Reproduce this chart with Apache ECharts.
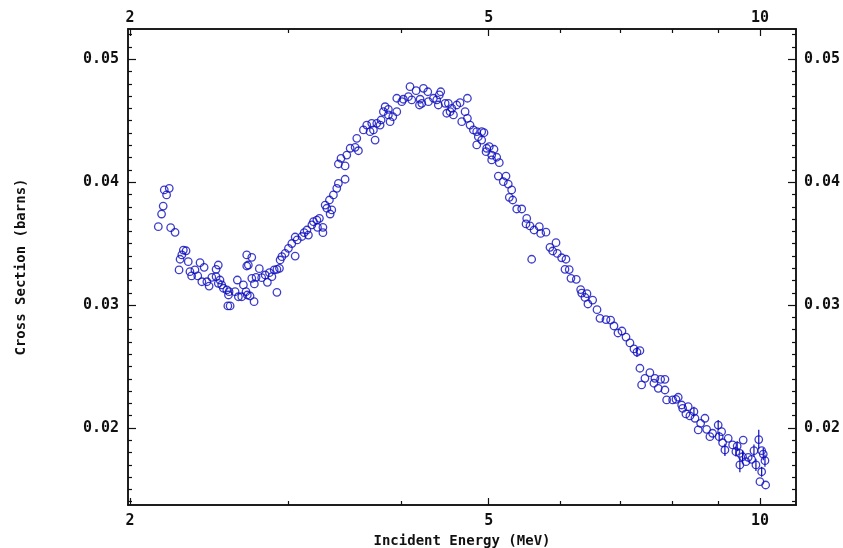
<!DOCTYPE html>
<html>
<head>
<meta charset="utf-8">
<script src="https://cdn.jsdelivr.net/npm/echarts@6/dist/echarts.min.js"></script>
<style>
  html, body { margin: 0; padding: 0; background: #fff; }
  #chart { width: 843px; height: 548px; }
</style>
</head>
<body>
<div id="chart"></div>
<script>
// Incident neutron energy (MeV) of each measured point
const energy = [
  2.150, 2.168, 2.177, 2.183, 2.196, 2.211, 2.219, 2.244, 2.267, 2.273,
  2.283, 2.292, 2.308, 2.321, 2.331, 2.341, 2.361, 2.378, 2.392, 2.403,
  2.417, 2.434, 2.448, 2.465, 2.492, 2.506, 2.492, 2.517, 2.506, 2.528,
  2.539, 2.561, 2.576, 2.572, 2.568, 2.583, 2.616, 2.631, 2.638, 2.661,
  2.672, 2.690, 2.699, 2.718, 2.746, 2.695, 2.730, 2.695, 2.706, 2.730,
  2.760, 2.748, 2.783, 2.800, 2.825, 2.841, 2.856, 2.874, 2.891, 2.911,
  2.930, 2.911, 2.935, 2.948, 2.973, 2.998, 3.024, 3.050, 3.050, 3.066,
  3.103, 3.121, 3.143, 3.155, 3.183, 3.196, 3.224, 3.245, 3.229, 3.274,
  3.274, 3.293, 3.307, 3.335, 3.349, 3.329, 3.363, 3.392, 3.406, 3.465,
  3.406, 3.429, 3.465, 3.480, 3.510, 3.555, 3.585, 3.570, 3.631, 3.662,
  3.709, 3.693, 3.725, 3.741, 3.757, 3.789, 3.799, 3.821, 3.838, 3.870,
  3.870, 3.887, 3.914, 3.954, 3.954, 4.005, 4.021, 4.073, 4.090, 4.108,
  4.154, 4.197, 4.215, 4.190, 4.233, 4.280, 4.287, 4.342, 4.379, 4.397,
  4.408, 4.424, 4.474, 4.511, 4.492, 4.531, 4.551, 4.570, 4.609, 4.648,
  4.668, 4.708, 4.736, 4.736, 4.768, 4.809, 4.850, 4.870, 4.850, 4.912,
  4.912, 4.941, 4.975, 5.008, 4.967, 5.039, 5.069, 5.039, 5.104, 5.138,
  5.125, 5.227, 5.191, 5.257, 5.303, 5.271, 5.317, 5.372, 5.441, 5.511,
  5.501, 5.557, 5.615, 5.691, 5.711, 5.789, 5.581, 5.848, 5.889, 5.939,
  5.958, 6.025, 6.092, 6.077, 6.143, 6.170, 6.255, 6.325, 6.342, 6.428,
  6.395, 6.522, 6.444, 6.595, 6.645, 6.748, 6.828, 6.887, 6.958, 7.029,
  7.102, 7.174, 7.248, 7.304, 7.359, 7.359, 7.391, 7.454, 7.549, 7.647,
  7.627, 7.712, 7.759, 7.845, 7.845, 7.879, 8.001, 8.069, 8.116, 8.187,
  8.208, 8.325, 8.277, 8.361, 8.448, 8.470, 8.594, 8.689, 8.541, 8.727,
  8.861, 8.988, 9.067, 8.800, 9.011, 9.090, 9.144, 9.221, 9.326, 9.435,
  9.404, 9.500, 9.581, 9.566, 9.648, 9.500, 9.704, 9.789, 9.848, 9.898,
  9.970, 10.044, 10.085, 10.129, 10.044, 10.000, 10.147
];

// Measured cross section (barns), same order as energy
const crossSection = [
  0.03638, 0.03741, 0.03806, 0.03937, 0.03896, 0.03950, 0.03630, 0.03592, 0.03286, 0.03373,
  0.03408, 0.03448, 0.03442, 0.03353, 0.03272, 0.03237, 0.03286, 0.03237, 0.03345, 0.03190,
  0.03307, 0.03190, 0.03155, 0.03226, 0.03291, 0.03326, 0.03231, 0.03204, 0.03177, 0.03164,
  0.03137, 0.03123, 0.03109, 0.03082, 0.02993, 0.02993, 0.03109, 0.03204, 0.03068, 0.03068,
  0.03164, 0.03109, 0.03082, 0.03074, 0.03028, 0.03408, 0.03389, 0.03318, 0.03326, 0.03218,
  0.03226, 0.03172, 0.03296, 0.03223, 0.03245, 0.03185, 0.03264, 0.03231, 0.03286, 0.03291,
  0.03299, 0.03104, 0.03367, 0.03394, 0.03421, 0.03462, 0.03501, 0.03399, 0.03554, 0.03530,
  0.03558, 0.03589, 0.03611, 0.03570, 0.03652, 0.03679, 0.03692, 0.03706, 0.03633, 0.03633,
  0.03589, 0.03814, 0.03788, 0.03741, 0.03774, 0.03855, 0.03896, 0.03950, 0.03991, 0.04024,
  0.04148, 0.04194, 0.04132, 0.04221, 0.04276, 0.04284, 0.04256, 0.04357, 0.04425, 0.04465,
  0.04479, 0.04411, 0.04425, 0.04343, 0.04479, 0.04465, 0.04506, 0.04574, 0.04614, 0.04593,
  0.04547, 0.04492, 0.04533, 0.04574, 0.04683, 0.04655, 0.04675, 0.04696, 0.04777, 0.04669,
  0.04745, 0.04675, 0.04642, 0.04628, 0.04764, 0.04736, 0.04655, 0.04683, 0.04669, 0.04628,
  0.04710, 0.04736, 0.04642, 0.04642, 0.04561, 0.04574, 0.04601, 0.04547, 0.04628, 0.04647,
  0.04492, 0.04574, 0.04683, 0.04520, 0.04465, 0.04425, 0.04411, 0.04370, 0.04303, 0.04411,
  0.04343, 0.04403, 0.04276, 0.04289, 0.04248, 0.04221, 0.04268, 0.04181, 0.04203, 0.04159,
  0.04050, 0.04050, 0.04004, 0.03985, 0.03937, 0.03877, 0.03855, 0.03782, 0.03782, 0.03705,
  0.03660, 0.03644, 0.03611, 0.03638, 0.03583, 0.03593, 0.03373, 0.03470, 0.03440, 0.03508,
  0.03420, 0.03385, 0.03373, 0.03291, 0.03289, 0.03218, 0.03210, 0.03126, 0.03098, 0.03093,
  0.03062, 0.03041, 0.03009, 0.02963, 0.02892, 0.02882, 0.02878, 0.02830, 0.02773, 0.02789,
  0.02740, 0.02692, 0.02643, 0.02618, 0.02629, 0.02486, 0.02350, 0.02404, 0.02450, 0.02404,
  0.02364, 0.02323, 0.02396, 0.02396, 0.02309, 0.02228, 0.02228, 0.02233, 0.02250, 0.02187,
  0.02160, 0.02173, 0.02114, 0.02098, 0.02133, 0.02079, 0.02038, 0.02079, 0.01984, 0.01989,
  0.01957, 0.02024, 0.01970, 0.01929, 0.01929, 0.01880, 0.01821, 0.01916, 0.01862, 0.01853,
  0.01807, 0.01794, 0.01902, 0.01766, 0.01726, 0.01699, 0.01761, 0.01745, 0.01815, 0.01699,
  0.01906, 0.01815, 0.01788, 0.01734, 0.01644, 0.01563, 0.01536
];

// Points whose uncertainty reaches beyond the marker, and their half-widths (barns)
const barIndex = [203, 224, 231, 234, 236, 239, 240, 243, 245, 248, 249, 250, 252, 253, 254];
const barHalf  = [0.0004, 0.0004, 0.0004, 0.0004, 0.0005, 0.0004, 0.0004, 0.0005, 0.0006, 0.0005, 0.0005, 0.0008, 0.0005, 0.0005, 0.0004];

// Axis ranges and tick positions
const xRange = [1.9898, 10.965];
const yRange = [0.013733, 0.052465];
const xMajorTicks = [2, 5, 10];
const xMinorTicks = [3, 4, 6, 7, 8, 9];
const yMajorTicks = [0.02, 0.03, 0.04, 0.05];
const yMinorTicks = [
  0.014, 0.015, 0.016, 0.017, 0.018, 0.019,
  0.021, 0.022, 0.023, 0.024, 0.025, 0.026, 0.027, 0.028, 0.029,
  0.031, 0.032, 0.033, 0.034, 0.035, 0.036, 0.037, 0.038, 0.039,
  0.041, 0.042, 0.043, 0.044, 0.045, 0.046, 0.047, 0.048, 0.049,
  0.051, 0.052
];

const MARK = '#0c0cbe';
const INK = '#111';
const TICK_FONT = { fontFamily: 'DejaVu Sans Mono', fontWeight: 'bold', fontSize: 15, color: INK };
const NAME_FONT = { fontFamily: 'DejaVu Sans Mono', fontWeight: 'bold', fontSize: 14, color: INK };

function xAxisDef(position, ticks, len, withLabels, extra) {
  return Object.assign({
    type: 'log', logBase: 10, gridIndex: 0, position: position,
    min: xRange[0], max: xRange[1],
    axisLine: { show: true, onZero: false, lineStyle: { color: INK, width: 1.5 } },
    axisTick: { show: true, inside: true, length: len, customValues: ticks, lineStyle: { color: INK, width: 1.2 } },
    axisLabel: withLabels
      ? Object.assign({ show: true, customValues: ticks, margin: position === 'top' ? 3 : 9 }, TICK_FONT)
      : { show: false },
    splitLine: { show: false },
    minorTick: { show: false },
    minorSplitLine: { show: false }
  }, extra || {});
}

function yAxisDef(position, ticks, len, withLabels, extra) {
  return Object.assign({
    type: 'value', gridIndex: 0, position: position,
    min: yRange[0], max: yRange[1],
    axisLine: { show: true, onZero: false, lineStyle: { color: INK, width: 1.5 } },
    axisTick: { show: true, inside: true, length: len, customValues: ticks, lineStyle: { color: INK, width: 1.2 } },
    axisLabel: withLabels
      ? Object.assign({ show: true, customValues: ticks, margin: position === 'left' ? 9 : 8 }, TICK_FONT)
      : { show: false },
    splitLine: { show: false },
    minorTick: { show: false },
    minorSplitLine: { show: false }
  }, extra || {});
}

const chart = echarts.init(document.getElementById('chart'), null, { renderer: 'canvas' });

chart.setOption({
  animation: false,
  backgroundColor: '#fff',
  grid: { left: 128, top: 29, width: 668, height: 476, containLabel: false, outerBoundsMode: 'none' },
  xAxis: [
    xAxisDef('bottom', xMajorTicks, 7, true, {
      name: 'Incident Energy (MeV)', nameLocation: 'middle', nameGap: 25, nameTextStyle: NAME_FONT
    }),
    xAxisDef('bottom', xMinorTicks, 4, false),
    xAxisDef('top', xMajorTicks, 7, true),
    xAxisDef('top', xMinorTicks, 4, false)
  ],
  yAxis: [
    yAxisDef('left', yMajorTicks, 8, true, {
      name: 'Cross Section (barns)', nameLocation: 'middle', nameGap: 100, nameTextStyle: NAME_FONT
    }),
    yAxisDef('left', yMinorTicks, 4, false),
    yAxisDef('right', yMajorTicks, 8, true),
    yAxisDef('right', yMinorTicks, 4, false)
  ],
  series: [
    {
      type: 'custom',
      xAxisIndex: 0, yAxisIndex: 0,
      data: barIndex.map(function (i, k) {
        return [energy[i], crossSection[i] - barHalf[k], crossSection[i] + barHalf[k]];
      }),
      encode: { x: 0, y: [1, 2] },
      renderItem: function (params, api) {
        const lo = api.coord([api.value(0), api.value(1)]);
        const hi = api.coord([api.value(0), api.value(2)]);
        return {
          type: 'line',
          shape: { x1: lo[0], y1: lo[1], x2: hi[0], y2: hi[1] },
          style: { stroke: MARK, lineWidth: 1.2 }
        };
      },
      z: 2
    },
    {
      type: 'scatter',
      xAxisIndex: 0, yAxisIndex: 0,
      symbol: 'circle',
      symbolSize: 7.5,
      data: energy.map(function (e, i) { return [e, crossSection[i]]; }),
      itemStyle: { color: 'rgba(0,0,0,0)', borderColor: MARK, borderWidth: 1.3 },
      emphasis: { disabled: true },
      z: 3
    }
  ]
});
</script>
</body>
</html>
